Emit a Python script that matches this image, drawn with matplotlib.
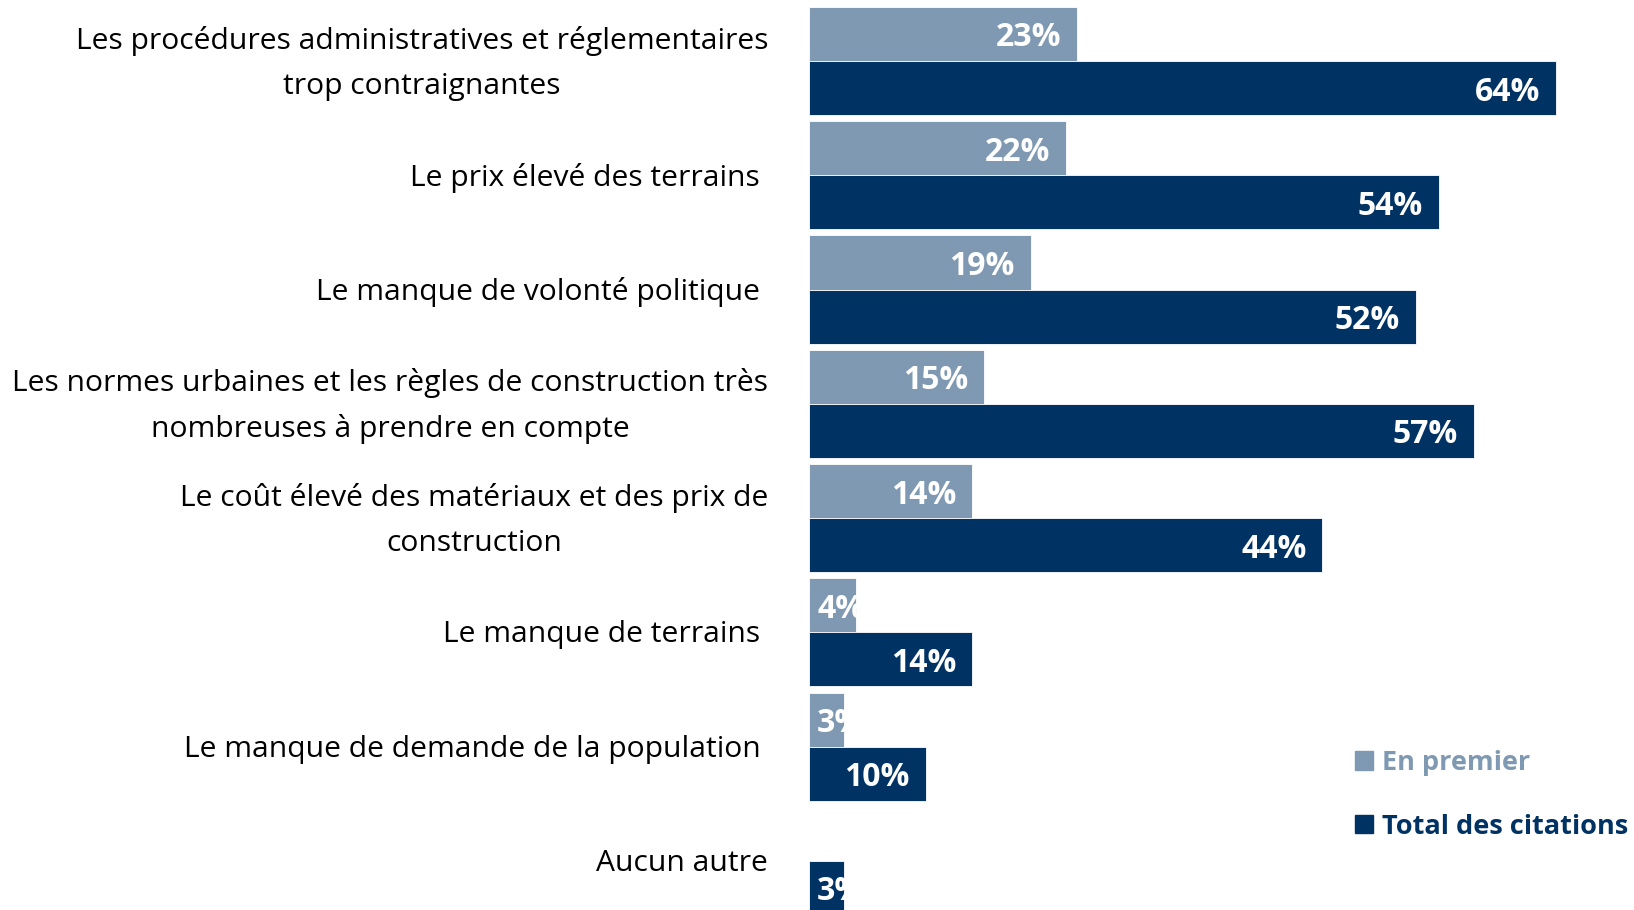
import numpy as np
import matplotlib
matplotlib.use("Agg")
import matplotlib.pyplot as plt
import matplotlib.transforms as mtransforms
from matplotlib.patches import Patch

plt.rcParams['font.family'] = ['Open Sans', 'DejaVu Sans']

categories = [
    "Les procédures administratives et réglementaires\ntrop contraignantes",
    "Le prix élevé des terrains ",
    "Le manque de volonté politique ",
    "Les normes urbaines et les règles de construction très\nnombreuses à prendre en compte",
    "Le coût élevé des matériaux et des prix de\nconstruction",
    "Le manque de terrains ",
    "Le manque de demande de la population ",
    "Aucun autre",
]
en_premier = [23, 22, 19, 15, 14, 4, 3, np.nan]
total_citations = [64, 54, 52, 57, 44, 14, 10, 3]

light = '#7f99b3'
dark = '#003263'

fig = plt.figure(figsize=(16.34, 9.10), dpi=100)
ax = fig.add_axes([809 / 1634, 0, 1 - 809 / 1634, 1])

y = np.arange(len(categories))
h = 0.473
b1 = ax.barh(y - h / 2, en_premier, height=h, color=light, edgecolor='white', linewidth=0.6)
b2 = ax.barh(y + h / 2, total_citations, height=h, color=dark, edgecolor='white', linewidth=0.6)

ax.set_xlim(0, 70.7)
ax.set_ylim(7.43, -0.534)


def label_bars(bars, values):
    for rect, v in zip(bars, values):
        if np.isnan(v):
            continue
        cy = rect.get_y() + rect.get_height() / 2
        if v < 5:
            t = ax.text(0.7, cy, f"{v:.0f}%", ha='left', va='center_baseline', color='white',
                        fontsize=23, fontweight='bold')
        else:
            t = ax.text(v - 1.37, cy, f"{v:.0f}%", ha='right', va='center_baseline', color='white',
                        fontsize=23, fontweight='bold')
        t.set_clip_path(rect)


label_bars(b1, en_premier)
label_bars(b2, total_citations)

# category labels, right edge ~41px left of the bars
off = mtransforms.ScaledTranslation(-41 / 100, -2.5 / 100, fig.dpi_scale_trans)
for yi, cat in zip(y, categories):
    ax.text(0, yi, cat, transform=ax.get_yaxis_transform() + off,
            ha='right', va='center', multialignment='center',
            fontsize=21.6, color='black', linespacing=1.70)

ax.set_yticks([])
ax.set_xticks([])
for s in ax.spines.values():
    s.set_visible(False)

handles = [Patch(color=light, label='En premier'), Patch(color=dark, label='Total des citations')]
ax.legend(handles=handles, loc='upper left', bbox_to_anchor=(1355 / 1634, 1 - 750 / 910),
          bbox_transform=fig.transFigure, frameon=False, labelcolor=[light, dark],
          prop={'size': 19.5, 'weight': 'bold'}, handlelength=0.65, handleheight=0.65,
          handletextpad=0.35, labelspacing=1.4, borderpad=0, borderaxespad=0)

fig.savefig('out.png', dpi=100)
